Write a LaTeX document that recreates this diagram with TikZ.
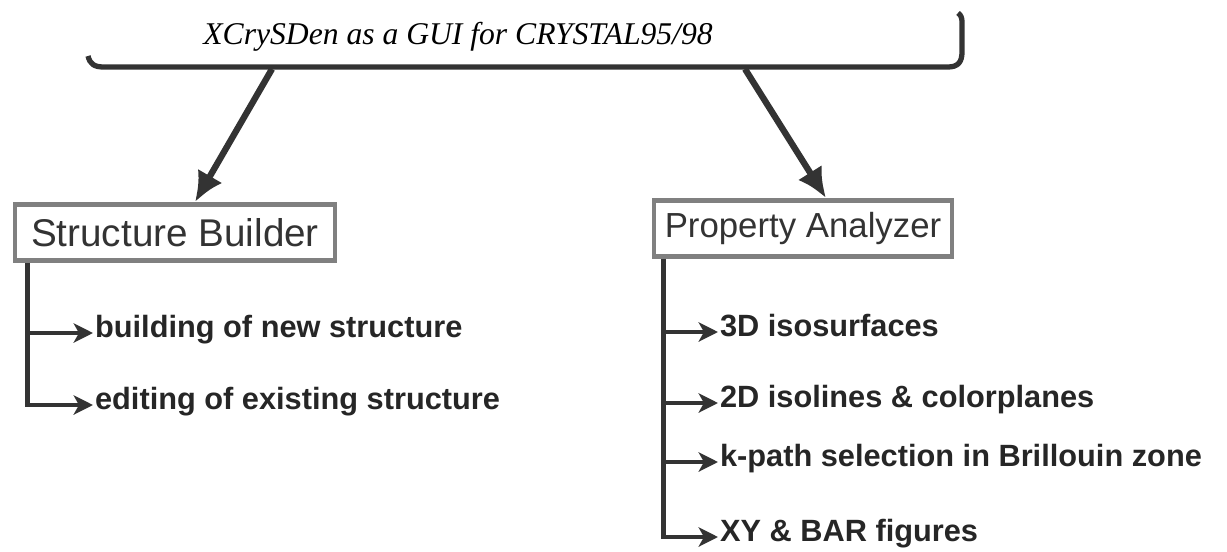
\documentclass[tikz,border=0pt]{standalone}
\usepackage{fontspec}
\setmainfont{Liberation Serif}
\setsansfont{Liberation Sans}
\usetikzlibrary{arrows.meta}

\tikzset{
  line/.style={draw=black!80, line width=2.6pt},
  bigarrow/.style={line, line width=3.6pt, -{Latex[length=17pt,width=16pt]}},
  smallarrow/.style={line, line width=2.4pt, -{Stealth[length=11pt,width=11pt,inset=3pt]}},
  module/.style={draw=black!50, line width=2.8pt, inner sep=0pt, minimum height=1.12cm,
    font=\sffamily\fontsize{22}{25}\selectfont, text=black!80},
  item/.style={anchor=west, inner sep=1pt, text height=0.75em, text depth=0.22em,
    font=\sffamily\bfseries\fontsize{17.5}{20}\selectfont, text=black!85}
}

\begin{document}
\begin{tikzpicture}[x=0.02cm, y=-0.02cm]
\useasboundingbox (0,0) rectangle (1227,551);
% title and its bracket
\node (title) at (458,37) {\itshape\fontsize{18}{21}\selectfont XCrySDen as a GUI for CRYSTAL95/98};
\draw[line, line width=3pt] (88,56) .. controls (90,64) and (94,67) .. (104,67) -- (948,67)
  .. controls (958,67) and (962,62) .. (962,52) -- (962,22) .. controls (962,18) and (961,15) .. (958,13);
\coordinate (tl) at (272,69);
\coordinate (tr) at (745,69);

% the two modules
\node[module, minimum width=6.4cm] (sb) at (175,232.5) {Structure Builder};
\node[module, minimum width=5.96cm, font=\sffamily\fontsize{19.8}{23}\selectfont] (pa) at (803,228.5) {Property Analyzer};
\draw[bigarrow] (tl) -- ([xshift=0.4cm]sb.north);
\draw[bigarrow] (tr) -- ([xshift=0.46cm]pa.north);

% structure builder tree
\coordinate (sbroot) at ([xshift=0.3cm]sb.south west);
\node[item] (b1) at (93,333) {building of new structure};
\node[item] (b2) at (93,405) {editing of existing structure};
\draw[smallarrow] (sbroot |- b1.west) -- (b1.west);
\draw[smallarrow] (sbroot) |- (b2.west);

% property analyzer tree
\coordinate (paroot) at ([xshift=0.24cm]pa.south west);
\node[item] (p1) at (718,332) {3D isosurfaces};
\node[item] (p2) at (718,403) {2D isolines \& colorplanes};
\node[item] (p3) at (718,462) {k-path selection in Brillouin zone};
\node[item] (p4) at (718,537) {XY \& BAR figures};
\foreach \n in {p1,p2,p3}
  \draw[smallarrow] (paroot |- \n.west) -- (\n.west);
\draw[smallarrow] (paroot) |- (p4.west);
\end{tikzpicture}
\end{document}
